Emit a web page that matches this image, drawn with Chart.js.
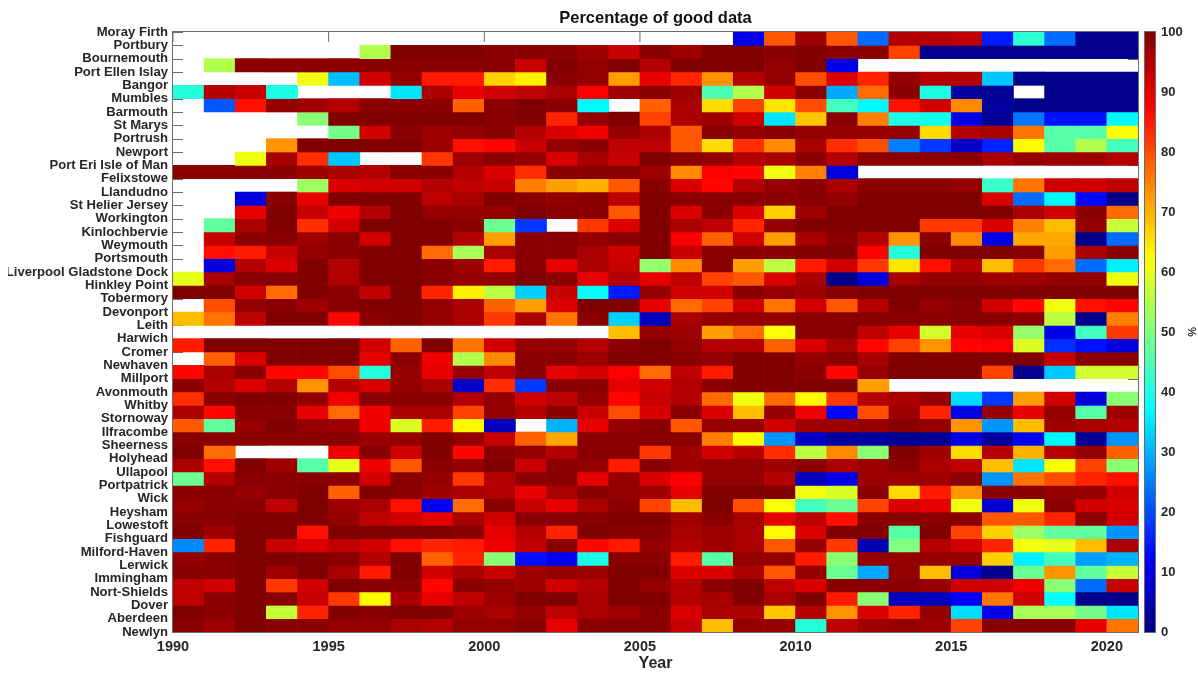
<!DOCTYPE html>
<html>
<head>
<meta charset="utf-8">
<title>Percentage of good data</title>
<script src="https://cdn.jsdelivr.net/npm/chart.js@4"></script>
<style>
  html, body { margin: 0; padding: 0; background: #fff; overflow: hidden; }
  #heat { position: absolute; left: 0; top: 0; }
  #bar { position: absolute; left: 1140px; top: 0; }
</style>
</head>
<body>
<canvas id="heat" width="1140" height="673"></canvas>
<canvas id="bar" width="58" height="673"></canvas>
<script>
const stations = ['Moray Firth','Portbury','Bournemouth','Port Ellen Islay','Bangor','Mumbles','Barmouth','St Marys','Portrush','Newport','Port Eri Isle of Man','Felixstowe','Llandudno','St Helier Jersey','Workington','Kinlochbervie','Weymouth','Portsmouth','Liverpool Gladstone Dock','Hinkley Point','Tobermory','Devonport','Leith','Harwich','Cromer','Newhaven','Millport','Avonmouth','Whitby','Stornoway','Ilfracombe','Sheerness','Holyhead','Ullapool','Portpatrick','Wick','Heysham','Lowestoft','Fishguard','Milford-Haven','Lerwick','Immingham','Nort-Shields','Dover','Aberdeen','Newlyn'];
const firstYear = 1990;
const lastYear = 2021;
const yearTicks = [1990,1995,2000,2005,2010,2015,2020];
const percentTicks = [0,10,20,30,40,50,60,70,80,90,100];

// one row per station (Newlyn only closes the axis), one value per year 1990..2020, null = no data
const _ = null;
const goodData = [
  [_,_,_,_,_,_,_,_,_,_,_,_,_,_,_,_,_,_,10,79,97,79,23,95,95,94,15,42,23,1,1],
  [_,_,_,_,_,_,55,100,100,100,99,99,99,97,93,99,97,100,100,99,100,99,99,81,1,1,1,1,1,1,1],
  [_,55,99,99,99,99,99,99,99,99,99,93,100,98,100,95,100,100,100,98,100,10,_,_,_,_,_,_,_,_,_],
  [_,_,_,_,61,31,92,98,85,85,67,64,99,98,72,90,84,73,95,98,80,91,84,98,95,95,32,1,1,1,1],
  [41,95,93,40,_,_,_,35,96,90,92,94,96,88,97,99,97,45,55,92,99,29,77,99,40,3,2,_,1,1,1],
  [_,21,86,98,97,95,99,99,99,78,99,100,99,37,_,78,96,66,81,65,80,44,37,86,92,74,3,1,1,1,1],
  [_,_,_,_,51,100,100,100,100,100,99,100,84,98,100,81,96,97,92,35,68,99,75,40,39,10,2,24,14,14,37],
  [_,_,_,_,_,49,92,99,97,98,99,95,91,89,98,96,79,99,98,99,98,98,98,98,66,95,96,76,46,46,62],
  [_,_,_,73,100,100,100,100,97,86,87,93,98,99,94,94,79,66,83,74,96,83,80,25,18,7,16,63,46,55,44],
  [_,_,61,96,83,32,_,_,82,97,99,98,91,96,93,100,99,98,95,96,99,95,99,99,99,99,96,98,97,97,95],
  [99,99,99,99,97,96,95,99,99,95,91,83,99,99,99,97,74,88,87,61,75,9,_,_,_,_,_,_,_,_,_],
  [_,_,_,_,53,91,92,92,95,94,93,75,72,70,79,99,91,87,95,98,99,96,99,99,99,98,43,76,92,92,94],
  [_,_,9,99,90,100,100,100,94,96,100,99,98,99,94,100,99,99,99,99,99,98,100,100,100,100,91,23,37,13,1],
  [_,_,90,100,93,89,95,100,98,98,98,100,99,99,79,100,91,99,91,67,97,100,100,100,100,100,100,96,92,99,77],
  [_,47,96,100,83,92,100,100,100,99,48,18,_,82,91,100,96,94,84,98,100,100,100,100,82,82,91,75,69,98,57],
  [_,93,99,99,97,99,92,100,100,95,72,99,99,98,99,100,88,78,92,72,96,99,95,73,99,74,10,71,71,1,23],
  [_,86,85,93,98,99,100,100,77,54,96,99,99,96,92,100,93,99,99,99,100,100,88,41,100,100,100,99,72,96,99],
  [_,9,95,91,100,95,100,100,99,97,85,99,90,96,93,52,74,99,72,56,85,92,82,65,86,95,69,82,77,23,36],
  [60,96,99,99,100,95,100,100,99,98,98,100,99,90,95,90,94,81,79,91,96,1,9,96,98,98,97,97,98,98,61],
  [100,100,92,77,100,99,94,100,84,64,56,33,93,38,15,98,92,92,99,98,97,99,100,100,100,100,100,100,100,100,100],
  [_,80,98,99,97,99,100,100,98,96,78,72,91,100,100,90,77,81,92,76,92,79,95,100,98,99,92,87,61,86,87],
  [69,76,94,100,100,87,99,100,98,96,82,96,76,99,33,6,96,98,98,98,99,99,99,99,99,99,99,99,56,1,75],
  [_,_,_,_,_,_,_,_,_,_,_,_,_,_,69,98,97,72,77,62,99,99,94,90,58,90,91,52,10,44,82],
  [85,100,100,100,100,100,92,78,100,76,92,98,98,95,99,100,98,95,95,78,91,96,87,81,73,87,88,59,17,14,9],
  [_,78,91,100,100,100,90,99,89,55,74,99,99,97,100,100,99,98,100,100,98,99,96,100,100,100,100,100,93,99,99],
  [87,96,99,87,87,80,41,98,90,98,94,99,90,92,88,77,94,85,100,100,99,87,98,100,100,100,81,1,32,58,58],
  [99,95,91,95,73,95,91,98,96,7,83,18,99,99,90,92,95,99,100,100,100,100,72,_,_,_,_,_,_,_,_],
  [83,99,100,100,98,89,99,99,99,95,98,92,94,98,87,93,95,77,61,77,63,82,95,96,98,34,18,72,92,9,51],
  [96,87,99,99,90,77,89,96,96,81,98,95,99,93,80,91,99,91,69,98,89,13,80,97,84,10,98,90,98,46,97],
  [79,47,98,100,98,97,89,59,85,63,6,_,30,90,98,99,79,98,98,92,97,97,98,99,98,73,27,69,97,96,95],
  [99,99,99,99,99,99,97,98,100,98,93,78,71,99,99,99,99,75,63,27,7,3,3,2,2,10,3,11,37,2,27],
  [100,77,_,_,_,89,99,92,100,87,99,98,95,99,99,82,97,92,95,83,56,74,51,100,97,66,95,70,95,98,78],
  [96,86,100,97,46,60,89,79,99,98,100,93,99,98,85,99,97,98,98,97,99,96,97,99,96,94,69,35,62,81,51],
  [48,95,99,99,99,99,92,99,98,82,95,99,99,90,98,91,88,98,98,95,6,10,97,97,97,99,27,76,80,84,86],
  [99,99,98,99,100,78,100,99,97,96,95,90,96,99,98,97,90,100,100,100,61,59,99,66,85,73,99,99,98,98,92],
  [98,99,99,94,100,97,96,86,11,77,99,93,90,96,99,81,69,100,80,62,44,48,81,91,90,61,8,61,99,92,91],
  [99,99,100,100,100,98,94,92,90,96,92,99,99,99,100,100,97,99,96,90,94,86,99,99,99,99,79,79,84,99,92],
  [100,97,100,100,86,100,100,100,100,99,90,95,84,100,99,99,96,97,96,63,91,100,100,46,100,81,67,53,47,47,27],
  [26,84,100,93,91,94,92,86,84,85,89,94,99,87,85,98,95,97,96,79,98,82,5,50,95,92,84,61,60,69,96],
  [98,99,100,100,100,99,95,100,78,84,51,14,11,40,99,99,85,46,98,98,85,51,98,98,98,98,67,36,44,28,30],
  [99,99,100,97,100,96,85,100,92,96,93,97,98,97,100,100,91,91,96,79,98,48,29,98,69,9,1,48,73,47,57],
  [94,92,100,82,92,100,99,99,87,99,98,97,92,95,100,98,95,99,100,94,91,99,99,99,98,92,92,89,51,23,93],
  [94,99,100,99,93,82,63,96,90,94,97,100,100,96,100,100,95,96,100,96,100,85,51,6,6,12,76,92,38,1,1],
  [100,99,100,57,84,100,99,100,100,97,96,98,94,96,97,99,91,96,96,68,95,73,91,84,98,34,10,54,54,49,35],
  [99,97,100,99,99,98,98,96,95,98,98,99,90,99,99,99,93,69,98,98,41,94,97,98,97,81,99,99,99,90,76]
];

// jet colormap stops, position in % and rgb
const jetStops = [
  [0,[0,0,128]],
  [12.5,[0,0,255]],
  [37.5,[0,255,255]],
  [62.5,[255,255,0]],
  [87.5,[255,0,0]],
  [100,[128,0,0]]
];

function jet(v) {
  for (let i = 1; i < jetStops.length; i++) {
    if (v <= jetStops[i][0]) {
      const a = jetStops[i - 1], b = jetStops[i];
      const t = (v - a[0]) / (b[0] - a[0]);
      const c = a[1].map((x, k) => Math.round(x + (b[1][k] - x) * t));
      return 'rgb(' + c.join(',') + ')';
    }
  }
  return 'rgb(128,0,0)';
}

const font = 'Liberation Sans, Arial, sans-serif';
const axisGrey = '#6b6b6b';
const textColor = '#262626';

// MATLAB style box with inward ticks, ticks stay under the cells
const innerTicks = {
  id: 'innerTicks',
  beforeDatasetsDraw(chart) {
    const a = chart.chartArea, c = chart.ctx;
    c.save();
    c.strokeStyle = axisGrey;
    c.lineWidth = 1;
    c.beginPath();
    (chart.scales.x && chart.scales.x.options.display ? chart.scales.x.ticks : []).forEach(t => {
      const p = chart.scales.x.getPixelForValue(t.value);
      c.moveTo(p, a.top); c.lineTo(p, a.top + 10);
      c.moveTo(p, a.bottom); c.lineTo(p, a.bottom - 10);
    });
    chart.scales.y.ticks.forEach(t => {
      const p = Math.round(chart.scales.y.getPixelForValue(t.value)) + 0.5;
      c.moveTo(a.left, p); c.lineTo(a.left + 10, p);
      c.moveTo(a.right, p); c.lineTo(a.right - 10, p);
    });
    c.stroke();
    c.restore();
  },
  afterDatasetsDraw(chart) {
    const a = chart.chartArea, c = chart.ctx;
    c.save();
    c.strokeStyle = axisGrey;
    c.lineWidth = 1;
    c.strokeRect(a.left - 0.5, a.top - 0.5, a.right - a.left + 1, a.bottom - a.top + 1);
    c.restore();
  }
};

const datasets = goodData.map((row, r) => ({
  label: stations[r],
  data: row.map((v, i) => v === null ? null : { x: firstYear + i + 0.5, y: [r, r + 1] }).filter(d => d),
  backgroundColor: row.filter(v => v !== null).map(jet),
  borderWidth: 0,
  grouped: false,
  barPercentage: 1,
  categoryPercentage: 1
}));

new Chart(document.getElementById('heat'), {
  type: 'bar',
  data: { datasets: datasets },
  plugins: [innerTicks],
  options: {
    responsive: false,
    animation: false,
    layout: { padding: { left: 8, right: 2, top: 0, bottom: 0 } },
    plugins: {
      legend: { display: false },
      tooltip: { enabled: false },
      title: {
        display: true,
        fullSize: false,
        text: 'Percentage of good data',
        color: '#111',
        font: { family: font, size: 16.5, weight: 'bold' },
        padding: { top: 9, bottom: 3.2 }
      }
    },
    scales: {
      x: {
        type: 'linear',
        min: firstYear,
        max: lastYear,
        offset: false,
        afterBuildTicks: s => { s.ticks = yearTicks.map(v => ({ value: v })); },
        afterFit: s => { s.height = 41; },
        grid: { display: false, drawTicks: false, tickLength: 0 },
        border: { display: false },
        ticks: {
          maxRotation: 0,
          autoSkip: false,
          padding: 6,
          color: textColor,
          font: { family: font, size: 14.5, weight: 'bold' },
          callback: v => String(v)
        },
        title: {
          display: true,
          text: 'Year',
          color: textColor,
          padding: { top: 0, bottom: 0 },
          font: { family: font, size: 16, weight: 'bold' }
        }
      },
      y: {
        type: 'linear',
        reverse: true,
        min: 0,
        max: stations.length - 1,
        afterBuildTicks: s => { s.ticks = stations.map((n, i) => ({ value: i })); },
        afterFit: s => { s.width = 165; },
        grid: { display: false, drawTicks: false, tickLength: 0 },
        border: { display: false },
        ticks: {
          autoSkip: false,
          padding: 5,
          color: textColor,
          font: { family: font, size: 13.1, weight: 'bold' },
          callback: v => stations[v]
        }
      }
    }
  }
});

// colour bar, one floating bar from 0 to 100 painted with the jet stops
new Chart(document.getElementById('bar'), {
  type: 'bar',
  data: {
    labels: ['%'],
    datasets: [{
      data: [[0, 100]],
      borderWidth: 0,
      barPercentage: 1,
      categoryPercentage: 1,
      backgroundColor: ctx => {
        const a = ctx.chart.chartArea;
        if (!a) return '#800000';
        const g = ctx.chart.ctx.createLinearGradient(0, a.bottom, 0, a.top);
        jetStops.forEach(s => g.addColorStop(s[0] / 100, 'rgb(' + s[1].join(',') + ')'));
        return g;
      }
    }]
  },
  plugins: [innerTicks],
  options: {
    responsive: false,
    animation: false,
    layout: { padding: { left: 5, right: 0, top: 32, bottom: 41 } },
    plugins: { legend: { display: false }, tooltip: { enabled: false } },
    scales: {
      x: { display: false },
      y: {
        position: 'right',
        min: 0,
        max: 100,
        afterBuildTicks: s => { s.ticks = percentTicks.map(v => ({ value: v })); },
        afterFit: s => { s.width = 43; },
        grid: { display: false, drawTicks: false, tickLength: 0 },
        border: { display: false },
        ticks: {
          autoSkip: false,
          padding: 6,
          color: textColor,
          font: { family: font, size: 13, weight: 'bold' }
        },
        title: {
          display: true,
          text: '%',
          color: textColor,
          padding: 0,
          font: { family: font, size: 11, weight: 'bold' }
        }
      }
    }
  }
});
</script>
</body>
</html>
